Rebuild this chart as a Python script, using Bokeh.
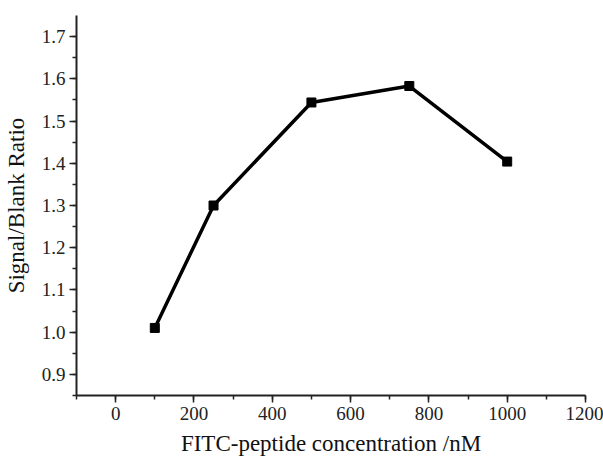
from bokeh.plotting import figure
from bokeh.models import Range1d, SingleIntervalTicker, NumeralTickFormatter
from bokeh.embed import file_html
from bokeh.resources import INLINE

# Data
concentration = [100, 250, 500, 750, 1000]
ratio = [1.010, 1.300, 1.544, 1.583, 1.404]

x_label = "FITC-peptide concentration /nM"
y_label = "Signal/Blank Ratio"

p = figure(width=603, height=460, output_backend="svg", toolbar_location=None,
           x_range=Range1d(-100, 1200), y_range=Range1d(0.85, 1.75),
           min_border_left=75, min_border_right=18, min_border_top=15, min_border_bottom=65)
p.outline_line_color = None
p.xgrid.grid_line_color = None
p.ygrid.grid_line_color = None
p.background_fill_color = "white"
p.border_fill_color = "white"

p.line(concentration, ratio, line_color="black", line_width=3.5)
p.scatter(concentration, ratio, marker="square", size=9, fill_color="black", line_color="black")

font = "Liberation Serif"
for ax in (p.xaxis[0], p.yaxis[0]):
    ax.axis_line_color = "#222222"
    ax.axis_line_width = 2
    ax.major_tick_line_color = "#222222"
    ax.minor_tick_line_color = "#222222"
    ax.major_tick_line_width = 1.5
    ax.minor_tick_line_width = 1.5
    ax.major_tick_out = 7
    ax.major_tick_in = 0
    ax.minor_tick_out = 4
    ax.minor_tick_in = 0
    ax.major_label_text_font = font
    ax.major_label_text_font_size = "19px"
    ax.major_label_text_color = "#222222"
    ax.axis_label_text_font = font
    ax.axis_label_text_font_size = "23px"
    ax.axis_label_text_font_style = "normal"
    ax.axis_label_text_color = "#111111"
    ax.major_label_standoff = 4

p.xaxis[0].ticker = SingleIntervalTicker(interval=200, num_minor_ticks=2)
p.yaxis[0].ticker = SingleIntervalTicker(interval=0.1, num_minor_ticks=2)
p.yaxis[0].formatter = NumeralTickFormatter(format="0.0")
p.xaxis[0].formatter = NumeralTickFormatter(format="0")
p.xaxis[0].axis_label = x_label
p.yaxis[0].axis_label = y_label
p.xaxis[0].axis_label_standoff = 8
p.yaxis[0].axis_label_standoff = 10

open("out.html", "w").write(file_html(p, INLINE))
